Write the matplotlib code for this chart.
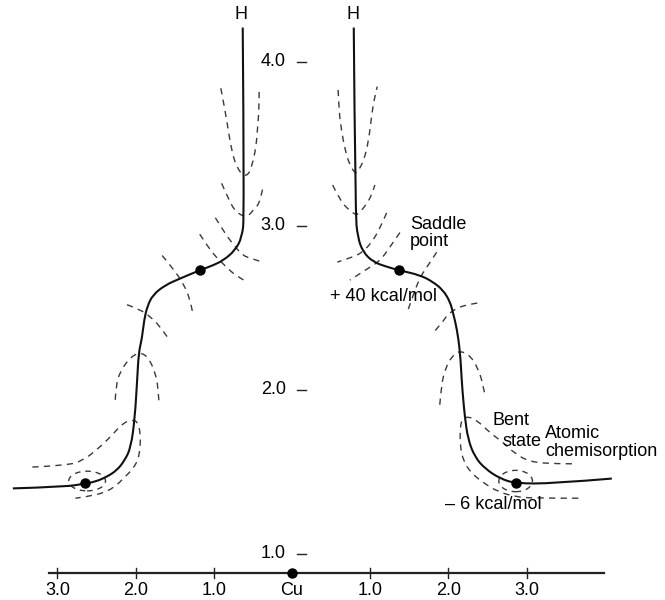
import matplotlib
matplotlib.use("Agg")
import matplotlib.pyplot as plt
from matplotlib.patches import Ellipse, PathPatch
from matplotlib.path import Path

plt.rcParams['font.family'] = ['Liberation Sans', 'DejaVu Sans']

# ---------------- data (distance units, Cu at x = 0) ----------------
# reaction paths of the H atom
left_path_x = [-0.63, -0.61, -0.64, -0.73, -0.88, -1.01, -1.18, -1.43, -1.62, -1.78, -1.85, -1.89,
               -1.92, -1.96, -1.98, -2.01, -2.06, -2.14, -2.24, -2.37, -2.52, -2.65, -2.88, -3.57]
left_path_y = [4.21, 3.06, 2.93, 2.85, 2.79, 2.76, 2.73, 2.68, 2.64, 2.58, 2.51, 2.43,
               2.31, 2.23, 2.06, 1.83, 1.65, 1.57, 1.51, 1.47, 1.44, 1.43, 1.41, 1.40]
right_path_x = [0.79, 0.81, 0.84, 0.91, 1.04, 1.22, 1.37, 1.64, 1.80, 1.93, 2.02, 2.06,
                2.11, 2.15, 2.17, 2.19, 2.21, 2.25, 2.34, 2.47, 2.66, 2.86, 3.34, 4.09]
right_path_y = [4.21, 3.08, 2.93, 2.84, 2.78, 2.75, 2.73, 2.70, 2.66, 2.61, 2.54, 2.47,
                2.37, 2.23, 2.06, 1.94, 1.84, 1.70, 1.59, 1.52, 1.46, 1.43, 1.43, 1.46]

# stationary points (saddle points and atomic chemisorption minima)
point_x = [-1.18, 1.37, -2.65, 2.86]
point_y = [2.73, 2.73, 1.43, 1.43]

# dashed energy contours, left side
cL1_x = [-0.91, -0.87, -0.83, -0.79, -0.74, -0.68, -0.63, -0.56, -0.51, -0.46, -0.44, -0.42, -0.42]
cL1_y = [3.84, 3.74, 3.63, 3.51, 3.40, 3.34, 3.31, 3.31, 3.37, 3.48, 3.60, 3.72, 3.83]
cL2_x = [-0.90, -0.79, -0.72, -0.63, -0.56, -0.49, -0.41, -0.37]
cL2_y = [3.26, 3.14, 3.09, 3.06, 3.06, 3.10, 3.14, 3.24]
cL3_x = [-0.98, -0.90, -0.82, -0.72, -0.63, -0.51, -0.38]
cL3_y = [3.05, 2.99, 2.93, 2.87, 2.82, 2.80, 2.78]
cL4_x = [-1.18, -1.07, -0.97, -0.86, -0.73, -0.58]
cL4_y = [2.95, 2.87, 2.81, 2.76, 2.70, 2.66]
cL5_x = [-1.66, -1.52, -1.39, -1.30, -1.27]
cL5_y = [2.82, 2.74, 2.65, 2.55, 2.47]
cL6_x = [-2.11, -1.94, -1.82, -1.69, -1.59]
cL6_y = [2.52, 2.49, 2.45, 2.39, 2.32]
cL7_x = [-2.26, -2.25, -2.20, -2.07, -1.94, -1.84, -1.75, -1.71, -1.70]
cL7_y = [1.94, 2.03, 2.11, 2.20, 2.23, 2.20, 2.11, 2.01, 1.91]
cL8_x = [-3.32, -2.88, -2.67, -2.46, -2.29, -2.16, -2.03, -1.97, -1.94, -1.94, -1.97, -2.05,
         -2.16, -2.26, -2.46, -2.77]
cL8_y = [1.53, 1.54, 1.57, 1.65, 1.73, 1.80, 1.82, 1.80, 1.74, 1.65, 1.57, 1.51,
         1.46, 1.41, 1.36, 1.34]

# dashed energy contours, right side
cR1_x = [0.59, 0.60, 0.63, 0.68, 0.74, 0.81, 0.84, 0.92, 0.98, 1.02, 1.05, 1.09]
cR1_y = [3.83, 3.71, 3.59, 3.46, 3.37, 3.32, 3.33, 3.40, 3.52, 3.68, 3.77, 3.85]
cR2_x = [0.52, 0.61, 0.72, 0.81, 0.84, 0.95, 1.02, 1.06]
cR2_y = [3.25, 3.16, 3.10, 3.07, 3.07, 3.13, 3.19, 3.25]
cR3_x = [1.21, 1.13, 1.02, 0.90, 0.78, 0.58]
cR3_y = [3.08, 2.99, 2.90, 2.84, 2.81, 2.78]
cR4_x = [1.38, 1.25, 1.13, 1.00, 0.87, 0.74]
cR4_y = [2.96, 2.87, 2.79, 2.75, 2.71, 2.67]
cR5_x = [1.85, 1.74, 1.64, 1.55, 1.47]
cR5_y = [2.84, 2.76, 2.69, 2.58, 2.47]
cR6_x = [2.37, 2.24, 2.11, 1.99, 1.92, 1.79]
cR6_y = [2.53, 2.52, 2.50, 2.46, 2.41, 2.34]
cR7_x = [1.89, 1.91, 1.96, 2.05, 2.15, 2.28, 2.38, 2.44, 2.47]
cR7_y = [1.91, 2.03, 2.13, 2.21, 2.24, 2.21, 2.13, 2.04, 1.96]
cR8_x = [3.58, 3.39, 3.04, 2.83, 2.70, 2.53, 2.38, 2.25, 2.17, 2.15, 2.15, 2.19, 2.28, 2.43,
         2.63, 2.85, 3.07, 3.71]
cR8_y = [1.55, 1.55, 1.56, 1.62, 1.68, 1.74, 1.81, 1.84, 1.82, 1.76, 1.66, 1.57, 1.50, 1.44,
         1.38, 1.35, 1.34, 1.34]

# small closed contours around the minima: centre x, centre y, width, height
well_x = [-2.62, 2.86]
well_y = [1.445, 1.445]
well_w = [0.47, 0.43]
well_h = [0.12, 0.13]

# scales
bottom_tick_values = [-3, -2, -1, 0, 1, 2, 3]
bottom_tick_labels = ['3.0', '2.0', '1.0', 'Cu', '1.0', '2.0', '3.0']
height_values = [1.0, 2.0, 3.0, 4.0]
height_labels = ['1.0', '2.0', '3.0', '4.0']
surface_y = 0.884

# ---------------- figure ----------------
fig = plt.figure(figsize=(6.65, 6.0), dpi=100)
ax = fig.add_axes([0, 0, 1, 1])
ax.set_xlim(-3.734, 4.770)
ax.set_ylim(0.7195, 4.378)
ax.axis('off')

FS = 13


def smooth_path(xs, ys):
    """Quadratic B-spline style path: listed points act as Bezier control points."""
    pts = list(zip(xs, ys))
    verts = [pts[0]]
    codes = [Path.MOVETO]
    if len(pts) == 2:
        verts.append(pts[1])
        codes.append(Path.LINETO)
        return Path(verts, codes)
    for i in range(1, len(pts) - 1):
        if i < len(pts) - 2:
            end = ((pts[i][0] + pts[i + 1][0]) / 2, (pts[i][1] + pts[i + 1][1]) / 2)
        else:
            end = pts[i + 1]
        verts += [pts[i], end]
        codes += [Path.CURVE3, Path.CURVE3]
    return Path(verts, codes)


dash_style = (0, (4.5, 3.8))
dash_color = '#3a3a3a'

contours = [(cL1_x, cL1_y), (cL2_x, cL2_y), (cL3_x, cL3_y), (cL4_x, cL4_y),
            (cL5_x, cL5_y), (cL6_x, cL6_y), (cL7_x, cL7_y), (cL8_x, cL8_y),
            (cR1_x, cR1_y), (cR2_x, cR2_y), (cR3_x, cR3_y), (cR4_x, cR4_y),
            (cR5_x, cR5_y), (cR6_x, cR6_y), (cR7_x, cR7_y), (cR8_x, cR8_y)]
for cx, cy in contours:
    ax.add_patch(PathPatch(smooth_path(cx, cy), fill=False, edgecolor=dash_color,
                           lw=1.0, linestyle=dash_style, capstyle='butt'))

for ex, ey, ew, eh in zip(well_x, well_y, well_w, well_h):
    ax.add_patch(Ellipse((ex, ey), ew, eh, fill=False, edgecolor=dash_color,
                         lw=1.0, linestyle=(0, (4.0, 3.5))))

# paths
for px, py in [(left_path_x, left_path_y), (right_path_x, right_path_y)]:
    ax.add_patch(PathPatch(smooth_path(px, py), fill=False, edgecolor='#111111',
                           lw=1.5, joinstyle='round', capstyle='butt'))
ax.plot(point_x, point_y, 'o', color='black', ms=6.5)

# H labels
ax.text(left_path_x[0] - 0.02, 4.29, 'H', ha='center', va='center', fontsize=FS)
ax.text(right_path_x[0] - 0.01, 4.29, 'H', ha='center', va='center', fontsize=FS)

# height scale
for v, lab in zip(height_values, height_labels):
    ax.text(-0.08, v, lab, ha='right', va='center', fontsize=FS)
    ax.plot([0.07, 0.185], [v, v], color='#222222', lw=1.0)

# surface axis
ax.plot([-3.11, 3.99], [surface_y, surface_y], color='#222222', lw=1.6)
for v, lab in zip(bottom_tick_values, bottom_tick_labels):
    if v != 0:
        ax.plot([v, v], [surface_y - 0.028, surface_y + 0.028], color='#222222', lw=1.0)
    ax.text(v, 0.775, lab, ha='center', va='center', fontsize=FS)
ax.plot([0], [surface_y], 'o', color='black', ms=6.5)

# annotations
ax.text(1.51, 2.955, 'Saddle\npoint', ha='left', va='center', fontsize=FS, linespacing=1.0)
ax.text(0.486, 2.573, '+ 40 kcal/mol', ha='left', va='center', fontsize=FS)
ax.text(2.57, 1.811, 'Bent', ha='left', va='center', fontsize=FS)
ax.text(2.69, 1.689, 'state', ha='left', va='center', fontsize=FS)
ax.text(3.24, 1.732, 'Atomic', ha='left', va='center', fontsize=FS)
ax.text(3.24, 1.628, 'chemisorption', ha='left', va='center', fontsize=FS)
ax.text(1.96, 1.30, '\u2013 6 kcal/mol', ha='left', va='center', fontsize=FS)

fig.savefig('out.png', dpi=100)
